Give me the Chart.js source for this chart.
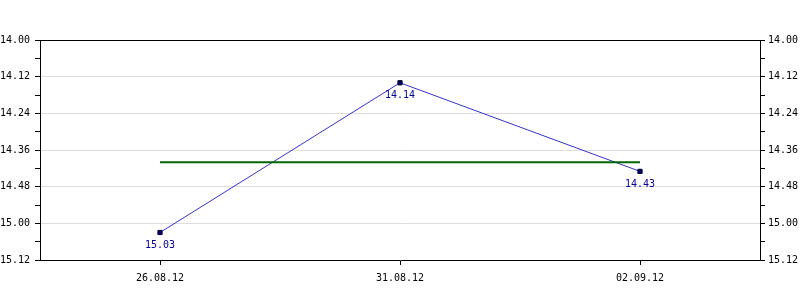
<!DOCTYPE html>
<html>
<head>
<meta charset="utf-8">
<script src="https://cdn.jsdelivr.net/npm/chart.js@4"></script>
<style>
  html, body { margin: 0; padding: 0; background: #fff; }
  #wrap { width: 800px; height: 300px; }
</style>
</head>
<body>
<div id="wrap"><canvas id="timeChart"></canvas></div>
<script>
// dates and times (in seconds, shown as min.sec)
const dates = ["26.08.12", "31.08.12", "02.09.12"];
const times = [903, 854, 883];
const average = 880; // 14.40
const avgLine = [average, average, average];
const yMin = 840, yMax = 912;

function fmt(v) {
  const m = Math.floor(v / 60);
  const s = Math.round(v - m * 60);
  return m + "." + String(s).padStart(2, "0");
}

const font = { family: "DejaVu Sans Mono", size: 10 };

// labels under the points + top border
const extras = {
  id: "extras",
  afterDatasetsDraw(chart) {
    const ctx = chart.ctx;
    const meta = chart.getDatasetMeta(1);
    ctx.save();
    ctx.font = "10px 'DejaVu Sans Mono'";
    ctx.fillStyle = "#000099";
    ctx.textAlign = "center";
    ctx.textBaseline = "middle";
    meta.data.forEach((pt, i) => {
      ctx.fillText(fmt(times[i]), pt.x, pt.y + 13);
    });
    const a = chart.chartArea;
    ctx.strokeStyle = "#000";
    ctx.lineWidth = 1;
    ctx.beginPath();
    ctx.moveTo(a.left, a.top + 0.5);
    ctx.lineTo(a.right, a.top + 0.5);
    ctx.stroke();
    ctx.restore();
  }
};

function yAxis(pos) {
  return {
    type: "linear",
    position: pos,
    reverse: true,
    min: yMin,
    max: yMax,
    afterFit: s => { s.width = 40; },
    ticks: {
      stepSize: 6,
      color: "#000",
      font: font,
      padding: pos === "left" ? 5 : 3,
      callback: v => (v % 12 === 0 ? fmt(v) : "")
    },
    grid: {
      drawOnChartArea: pos === "left",
      color: c => (c.tick && c.tick.value % 12 === 0 && c.tick.value !== yMin && c.tick.value !== yMax ? "#dddddd" : "rgba(0,0,0,0)"),
      tickColor: "#000",
      tickLength: 5
    },
    border: { color: "#000" }
  };
}

new Chart(document.getElementById("timeChart"), {
  type: "line",
  data: {
    labels: dates,
    datasets: [
      {
        label: "average",
        data: avgLine,
        borderColor: "#006600",
        borderWidth: 2,
        pointRadius: 0,
        yAxisID: "y",
        order: 0
      },
      {
        label: "time",
        data: times,
        borderColor: "#3333cc",
        borderWidth: 1,
        pointStyle: "rect",
        pointRadius: 3,
        pointBackgroundColor: "#000066",
        pointBorderColor: "#000033",
        pointBorderWidth: 1,
        yAxisID: "y",
        order: 1
      }
    ]
  },
  options: {
    responsive: true,
    maintainAspectRatio: false,
    animation: false,
    layout: { padding: { top: 40, left: 0, right: 0, bottom: 0 } },
    plugins: {
      legend: { display: false },
      tooltip: { enabled: false }
    },
    scales: {
      x: {
        offset: true,
        afterFit: s => { s.height = 40; },
        ticks: { color: "#000", font: font, padding: 7 },
        grid: {
          drawOnChartArea: false,
          offset: false,
          tickColor: "#000",
          tickLength: 5
        },
        border: { color: "#000" }
      },
      y: yAxis("left"),
      y2: yAxis("right")
    }
  },
  plugins: [extras]
});
</script>
</body>
</html>
